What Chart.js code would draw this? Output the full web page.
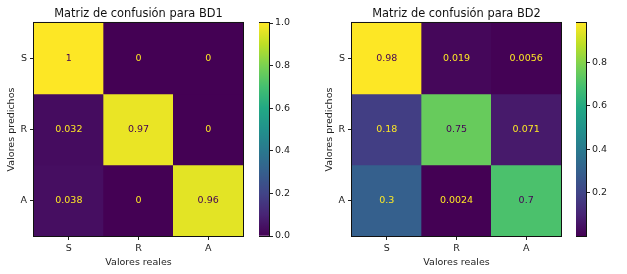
<!DOCTYPE html>
<html>
<head>
<meta charset="utf-8">
<script src="https://cdn.jsdelivr.net/npm/chart.js@4.4.1/dist/chart.umd.min.js"></script>
<style>
  body { margin: 0; background: #fff; }
  #wrap { position: relative; width: 627px; height: 274px; }
  canvas { position: absolute; top: 0; }
</style>
</head>
<body>
<div id="wrap">
  <canvas id="cm1" width="245" height="274" style="left:0px"></canvas>
  <canvas id="cb1" width="50" height="274" style="left:259px"></canvas>
  <canvas id="cm2" width="245" height="274" style="left:318px"></canvas>
  <canvas id="cb2" width="50" height="274" style="left:576px"></canvas>
</div>
<script>
// clases (filas = predichos, columnas = reales)
const labels = ["S", "R", "A"];
const matrixBD1 = [
  [1, 0, 0],
  [0.032, 0.97, 0],
  [0.038, 0, 0.96]
];
const matrixBD2 = [
  [0.98, 0.019, 0.0056],
  [0.18, 0.75, 0.071],
  [0.3, 0.0024, 0.7]
];
const colorbarTicksBD1 = [0, 0.2, 0.4, 0.6, 0.8, 1.0];
const colorbarTicksBD2 = [0.2, 0.4, 0.6, 0.8];

Chart.defaults.font.family = "DejaVu Sans";
Chart.defaults.color = "#222";

// viridis
const viridisStops = ["#440154", "#482475", "#414487", "#355f8d", "#2a788e",
  "#21918c", "#22a884", "#44bf70", "#7ad151", "#bddf26", "#fde725"];

function hexToRgb(h) {
  return [parseInt(h.slice(1, 3), 16), parseInt(h.slice(3, 5), 16), parseInt(h.slice(5, 7), 16)];
}

function viridis(t) {
  t = Math.max(0, Math.min(1, t));
  const pos = t * (viridisStops.length - 1);
  const i = Math.min(Math.floor(pos), viridisStops.length - 2);
  const f = pos - i;
  const a = hexToRgb(viridisStops[i]);
  const b = hexToRgb(viridisStops[i + 1]);
  const c = a.map((v, k) => Math.round(v + (b[k] - v) * f));
  return "rgb(" + c.join(",") + ")";
}

const boxPlugin = {
  id: "box",
  afterDraw(chart) {
    const a = chart.chartArea;
    const ctx = chart.ctx;
    ctx.save();
    ctx.strokeStyle = "#111";
    ctx.lineWidth = 1;
    ctx.strokeRect(a.left - 0.5, a.top - 0.5, a.right - a.left + 1, a.bottom - a.top + 1);
    ctx.restore();
  }
};

const cellTextPlugin = {
  id: "cellText",
  afterDatasetsDraw(chart) {
    const ctx = chart.ctx;
    ctx.save();
    ctx.font = "9.5px 'DejaVu Sans'";
    ctx.textAlign = "center";
    ctx.textBaseline = "middle";
    chart.data.datasets.forEach((ds, i) => {
      const meta = chart.getDatasetMeta(i);
      meta.data.forEach((bar, j) => {
        const v = ds.values[j];
        ctx.fillStyle = v < ds.thresh ? "#fde725" : "#440154";
        ctx.fillText(String(v), bar.x, (bar.y + bar.base) / 2);
      });
    });
    ctx.restore();
  }
};

function heatmap(id, matrix, title) {
  const flat = matrix.flat();
  const vmin = Math.min(...flat);
  const vmax = Math.max(...flat);
  const thresh = (vmin + vmax) / 2;

  return new Chart(document.getElementById(id), {
    type: "bar",
    data: {
      labels: labels,
      datasets: matrix.map((row, i) => ({
        data: row.map(() => [i - 0.5, i + 0.5]),
        values: row,
        thresh: thresh,
        backgroundColor: row.map(v => viridis((v - vmin) / (vmax - vmin))),
        borderWidth: 0,
        grouped: false,
        barPercentage: 1,
        categoryPercentage: 1
      }))
    },
    options: {
      responsive: false,
      animation: false,
      layout: { padding: { left: 6, right: 2, top: 0, bottom: 6 } },
      plugins: {
        legend: { display: false },
        tooltip: { enabled: false },
        title: {
          display: true,
          fullSize: false,
          text: title,
          color: "#111",
          font: { size: 11.4, weight: "normal" },
          padding: { top: 7, bottom: 2.3 }
        }
      },
      scales: {
        x: {
          type: "category",
          offset: true,
          grid: { offset: false, drawOnChartArea: false, tickLength: 4, color: "#222" },
          border: { display: false },
          ticks: { padding: 3, font: { size: 9.5 } },
          title: { display: true, text: "Valores reales", font: { size: 9.5 }, padding: 0 },
          afterFit(scale) { scale.height = 32; }
        },
        y: {
          type: "linear",
          reverse: true,
          min: -0.5,
          max: 2.5,
          afterBuildTicks(scale) {
            scale.ticks = labels.map((_, i) => ({ value: i }));
          },
          grid: { drawOnChartArea: false, tickLength: 4, color: "#222" },
          border: { display: false },
          ticks: {
            padding: 3,
            font: { size: 9.5 },
            autoSkip: false,
            callback: (v, idx) => labels[idx]
          },
          title: { display: true, text: "Valores predichos", font: { size: 9.5 }, padding: { top: 0, bottom: 2 } },
          afterFit(scale) { scale.width = 28; }
        }
      }
    },
    plugins: [cellTextPlugin, boxPlugin]
  });
}

function colorbar(id, matrix, tickValues) {
  const flat = matrix.flat();
  const vmin = Math.min(...flat);
  const vmax = Math.max(...flat);

  return new Chart(document.getElementById(id), {
    type: "bar",
    data: {
      labels: [""],
      datasets: [{
        data: [[vmin, vmax]],
        backgroundColor(c) {
          const a = c.chart.chartArea;
          if (!a) return viridis(0.5);
          const g = c.chart.ctx.createLinearGradient(0, a.bottom, 0, a.top);
          viridisStops.forEach((s, k) => g.addColorStop(k / (viridisStops.length - 1), s));
          return g;
        },
        borderWidth: 0,
        barPercentage: 1,
        categoryPercentage: 1
      }]
    },
    options: {
      responsive: false,
      animation: false,
      layout: { padding: { left: 0, right: 0, top: 23, bottom: 38 } },
      plugins: {
        legend: { display: false },
        tooltip: { enabled: false }
      },
      scales: {
        x: { display: false },
        y: {
          position: "right",
          min: vmin,
          max: vmax,
          afterBuildTicks(scale) {
            scale.ticks = tickValues.map(v => ({ value: v }));
          },
          grid: { drawOnChartArea: false, tickLength: 4, color: "#222" },
          border: { display: false },
          ticks: { padding: 2, font: { size: 9.5 }, callback: v => v.toFixed(1) },
          afterFit(scale) { scale.width = 40; }
        }
      }
    },
    plugins: [boxPlugin]
  });
}

heatmap("cm1", matrixBD1, "Matriz de confusión para BD1");
colorbar("cb1", matrixBD1, colorbarTicksBD1);
heatmap("cm2", matrixBD2, "Matriz de confusión para BD2");
colorbar("cb2", matrixBD2, colorbarTicksBD2);
</script>
</body>
</html>
